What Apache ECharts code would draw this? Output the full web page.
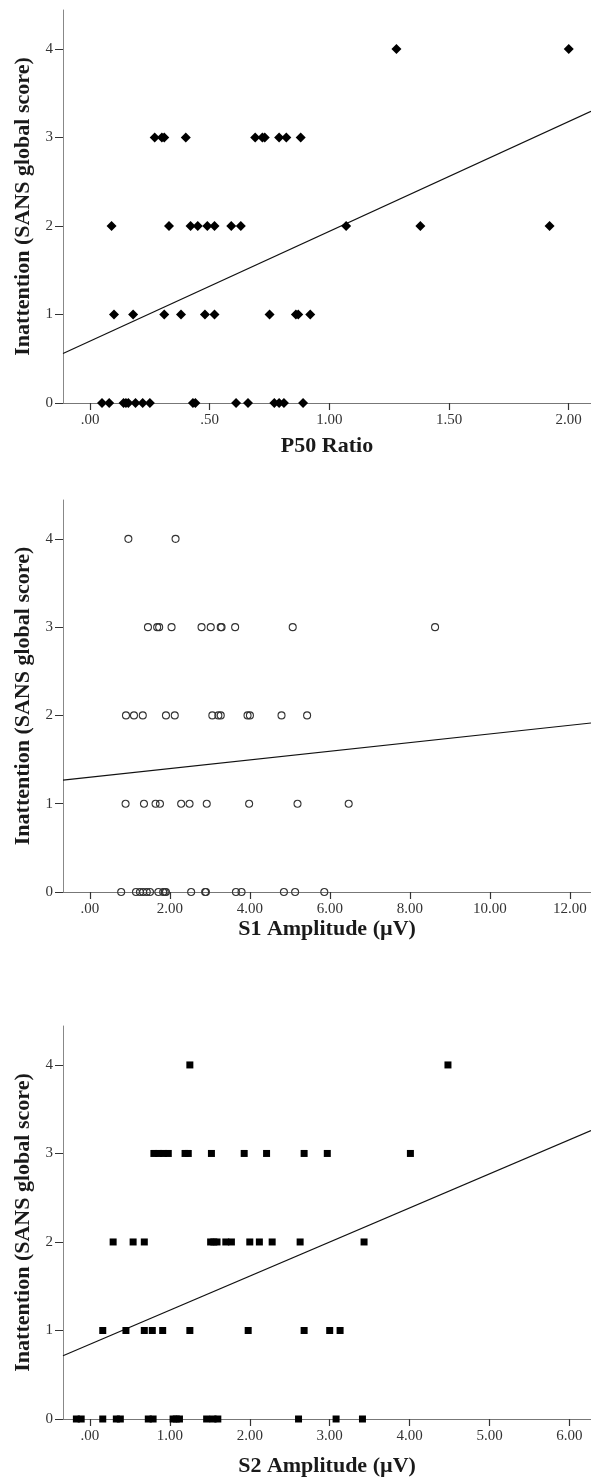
<!DOCTYPE html>
<html>
<head>
<meta charset="utf-8">
<script src="https://cdn.jsdelivr.net/npm/echarts@6/dist/echarts.min.js"></script>
<style>
html,body{margin:0;padding:0;background:#fff;}
#c{width:591px;height:1482px;}
</style>
</head>
<body>
<div id="c"></div>
<script>
// ---------- data ----------
const yTicks = [0, 1, 2, 3, 4];

const p50Ratio = [1.28, 2.00,
  0.27, 0.30, 0.31, 0.40, 0.69, 0.72, 0.73, 0.79, 0.82, 0.88,
  0.09, 0.33, 0.42, 0.45, 0.49, 0.52, 0.59, 0.63, 1.07, 1.38, 1.92,
  0.10, 0.18, 0.31, 0.38, 0.48, 0.52, 0.75, 0.86, 0.87, 0.92,
  0.05, 0.08, 0.14, 0.15, 0.16, 0.19, 0.22, 0.25, 0.43, 0.44, 0.61, 0.66, 0.77, 0.79, 0.81, 0.89];
const p50Inattention = [4, 4,
  3, 3, 3, 3, 3, 3, 3, 3, 3, 3,
  2, 2, 2, 2, 2, 2, 2, 2, 2, 2, 2,
  1, 1, 1, 1, 1, 1, 1, 1, 1, 1,
  0, 0, 0, 0, 0, 0, 0, 0, 0, 0, 0, 0, 0, 0, 0, 0];
const p50Intercept = 0.70, p50Slope = 1.24;
const p50Ticks = [0, 0.5, 1, 1.5, 2];
const p50Range = [-0.113, 2.093];

const s1Amplitude = [0.96, 2.14,
  1.45, 1.68, 1.73, 2.04, 2.79, 3.02, 3.27, 3.29, 3.63, 5.07, 8.63,
  0.90, 1.10, 1.32, 1.90, 2.12, 3.06, 3.21, 3.27, 3.94, 4.00, 4.79, 5.43,
  0.89, 1.35, 1.64, 1.75, 2.28, 2.49, 2.92, 3.98, 5.19, 6.47,
  0.78, 1.15, 1.25, 1.33, 1.42, 1.50, 1.71, 1.83, 1.87, 1.90, 2.53, 2.88, 2.90, 3.65, 3.79, 4.85, 5.13, 5.86];
const s1Inattention = [4, 4,
  3, 3, 3, 3, 3, 3, 3, 3, 3, 3, 3,
  2, 2, 2, 2, 2, 2, 2, 2, 2, 2, 2, 2,
  1, 1, 1, 1, 1, 1, 1, 1, 1, 1,
  0, 0, 0, 0, 0, 0, 0, 0, 0, 0, 0, 0, 0, 0, 0, 0, 0, 0];
const s1Intercept = 1.30, s1Slope = 0.049;
const s1Ticks = [0, 2, 4, 6, 8, 10, 12];
const s1Range = [-0.675, 12.53];

const s2Amplitude = [1.25, 4.48,
  0.80, 0.86, 0.92, 0.98, 1.19, 1.23, 1.52, 1.93, 2.21, 2.68, 2.97, 4.01,
  0.29, 0.54, 0.68, 1.51, 1.55, 1.59, 1.70, 1.77, 2.00, 2.12, 2.28, 2.63, 3.43,
  0.16, 0.45, 0.68, 0.78, 0.91, 1.25, 1.98, 2.68, 3.00, 3.13,
  -0.17, -0.11, 0.16, 0.33, 0.38, 0.73, 0.79, 1.04, 1.08, 1.12, 1.46, 1.54, 1.60, 2.61, 3.08, 3.41];
const s2Inattention = [4, 4,
  3, 3, 3, 3, 3, 3, 3, 3, 3, 3, 3, 3,
  2, 2, 2, 2, 2, 2, 2, 2, 2, 2, 2, 2, 2,
  1, 1, 1, 1, 1, 1, 1, 1, 1, 1,
  0, 0, 0, 0, 0, 0, 0, 0, 0, 0, 0, 0, 0, 0, 0, 0];
const s2Intercept = 0.845, s2Slope = 0.385;
const s2Ticks = [0, 1, 2, 3, 4, 5, 6];
const s2Range = [-0.3375, 6.27];

const yRange = [0, 4.44];
const yTitle = 'Inattention (SANS global score)';
const xTitles = ['P50 Ratio', 'S1 Amplitude (\u00B5V)', 'S2 Amplitude (\u00B5V)'];

// ---------- chart ----------
const FONT = 'Liberation Serif';
const fmt = v => { const s = Number(v).toFixed(2); return s.startsWith('0') ? s.slice(1) : (s.startsWith('-0') ? '-' + s.slice(2) : s); };
const zip = (xs, ys) => xs.map((x, i) => [x, ys[i]]);
const fitLine = (a, b, r) => [[r[0], a + b * r[0]], [r[1], a + b * r[1]]];

const grids = [
  {left: 63, top: 10, width: 528, height: 393},
  {left: 63, top: 500, width: 528, height: 392},
  {left: 63, top: 1026, width: 528, height: 393}
];
const xRanges = [p50Range, s1Range, s2Range];
const xTickSets = [p50Ticks, s1Ticks, s2Ticks];
const xNameGaps = [32, 26, 36];

const xAxes = grids.map((g, i) => ({
  type: 'value', gridIndex: i, min: xRanges[i][0], max: xRanges[i][1],
  name: xTitles[i], nameLocation: 'middle', nameGap: xNameGaps[i],
  nameTextStyle: {fontFamily: FONT, fontWeight: 'bold', fontSize: 22, color: '#1a1a1a'},
  axisLine: {show: true, onZero: false, lineStyle: {color: '#777', width: 1}},
  axisTick: {show: true, inside: false, length: 7, customValues: xTickSets[i], lineStyle: {color: '#333', width: 1.2}},
  axisLabel: {show: true, margin: 10, customValues: xTickSets[i], formatter: fmt, fontFamily: FONT, fontSize: 15, color: '#333'},
  splitLine: {show: false}
}));
const yAxes = grids.map((g, i) => ({
  type: 'value', gridIndex: i, min: yRange[0], max: yRange[1],
  name: yTitle, nameLocation: 'middle', nameGap: 28, nameRotate: 90,
  nameTextStyle: {fontFamily: FONT, fontWeight: 'bold', fontSize: 22, color: '#1a1a1a'},
  axisLine: {show: true, onZero: false, lineStyle: {color: '#888', width: 1}},
  axisTick: {show: true, inside: false, length: 8, customValues: yTicks, lineStyle: {color: '#333', width: 1}},
  axisLabel: {show: true, margin: 10, customValues: yTicks, fontFamily: FONT, fontSize: 15, color: '#333'},
  splitLine: {show: false}
}));

const lineSeries = (i, a, b) => ({
  type: 'line', xAxisIndex: i, yAxisIndex: i, data: fitLine(a, b, xRanges[i]),
  symbol: 'none', silent: true, lineStyle: {color: '#111', width: 1.2}, z: 1
});

const option = {
  animation: false,
  backgroundColor: '#fff',
  grid: grids,
  xAxis: xAxes,
  yAxis: yAxes,
  series: [
    lineSeries(0, p50Intercept, p50Slope),
    {type: 'scatter', xAxisIndex: 0, yAxisIndex: 0, data: zip(p50Ratio, p50Inattention),
     symbol: 'diamond', symbolSize: [10, 10], itemStyle: {color: '#000', opacity: 1}, z: 3},
    lineSeries(1, s1Intercept, s1Slope),
    {type: 'scatter', xAxisIndex: 1, yAxisIndex: 1, data: zip(s1Amplitude, s1Inattention),
     symbol: 'circle', symbolSize: 7, itemStyle: {color: 'rgba(0,0,0,0)', borderColor: '#333', borderWidth: 1.1, opacity: 1}, z: 3},
    lineSeries(2, s2Intercept, s2Slope),
    {type: 'scatter', xAxisIndex: 2, yAxisIndex: 2, data: zip(s2Amplitude, s2Inattention),
     symbol: 'rect', symbolSize: [7, 7], itemStyle: {color: '#000', opacity: 1}, z: 3}
  ]
};
const chart = echarts.init(document.getElementById('c'), null, {renderer: 'canvas'});
chart.setOption(option);
</script>
</body>
</html>
